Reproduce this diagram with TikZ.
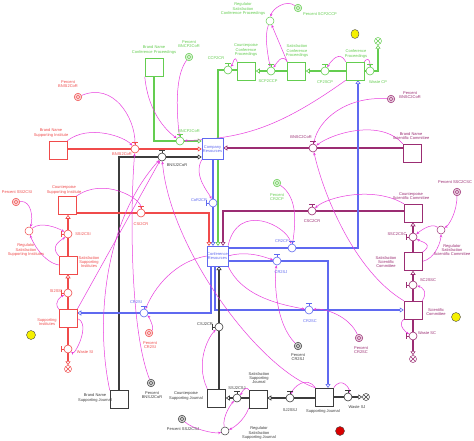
\documentclass[tikz,border=0pt]{standalone}
\usepackage{fontspec}
\setmainfont{Liberation Sans}
\usetikzlibrary{arrows.meta,shapes.geometric}
\definecolor{cg}{RGB}{100,205,80}
\definecolor{cr}{RGB}{240,75,75}
\definecolor{cp}{RGB}{155,45,115}
\definecolor{cb}{RGB}{95,105,240}
\definecolor{ck}{RGB}{60,60,60}
\definecolor{cm}{RGB}{232,60,222}
\definecolor{cy}{RGB}{245,240,0}
\pgfdeclarelayer{bg}
\pgfdeclarelayer{pipes}
\pgfdeclarelayer{links}
\pgfsetlayers{bg,pipes,links,main}
\tikzset{
 lbl/.style={font=\fontsize{4}{4.4}\selectfont, align=center, inner sep=0pt, text=#1},
 stock/.style={draw=#1, fill=white, line width=0.5pt, minimum width=18pt, minimum height=18pt, inner sep=0pt},
 valve/.style={circle, draw=#1, fill=white, line width=0.6pt, minimum size=8pt, inner sep=0pt},
 conv/.style={circle, draw=#1, fill=#1!25, line width=0.5pt, minimum size=7.5pt, inner sep=0pt,
   path picture={\draw[#1,line width=0.4pt] (path picture bounding box.center) circle (1.8pt);}},
 reg/.style={circle, draw=#1, fill=white, line width=0.5pt, minimum size=8pt, inner sep=0pt},
 cloudnode/.style={circle, draw=#1, fill=white, line width=0.5pt, minimum size=7pt, inner sep=0pt,
   path picture={\draw[#1,line width=0.4pt] (path picture bounding box.south west) -- (path picture bounding box.north east) (path picture bounding box.north west) -- (path picture bounding box.south east);}},
 pipe/.style={draw=#1, line width=1.8pt, -{Triangle[open, length=4pt, width=5pt, line width=0.6pt]}},
 info/.style={draw=cm, line width=0.5pt, -{Stealth[length=3pt, width=2.5pt]}},
 dot/.style={circle, draw=black!70, line width=0.4pt, inner sep=0pt},
}
\newcommand\valveh[3]{\node[valve=#3] (#1) at (#2) {}; \draw[#3, line width=0.8pt] (#1.north) -- ++(0,-2.5) ++(-3,0) -- ++(6,0);}
\newcommand\valvev[3]{\node[valve=#3] (#1) at (#2) {}; \draw[#3, line width=0.8pt] (#1.west) -- ++(-2.5,0) ++(0,-3) -- ++(0,6);}
\begin{document}
\begin{tikzpicture}[x=1pt,y=-1pt]
\begin{pgfonlayer}{bg}
\fill[white] (0,0) rectangle (474,441);
\end{pgfonlayer}
\useasboundingbox (0,0) rectangle (474,441);
% ---------- ports
\coordinate (crR) at (209,246);
\coordinate (crB) at (213,246);
\coordinate (crG) at (218,246);
\coordinate (crP) at (223,246);
\coordinate (crO1) at (211,266);
\coordinate (crO2) at (215,266);
\coordinate (crI) at (219,266);
\coordinate (cpIn) at (358,80);
\coordinate (sjIn) at (328,388);
% ---------- stocks
\node[stock=cg] (BNCP) at (154,67.5) {};
\node[stock=cg] (CCP) at (246.5,71) {};
\node[stock=cg] (SCP) at (296.5,71) {};
\node[stock=cg] (CP) at (355,71) {};
\node[stock=cr] (BNSI) at (58,150) {};
\node[stock=cp] (BNSC) at (412,153) {};
\node[stock=cr] (CSI) at (67,205.5) {};
\node[stock=cr] (SSI) at (68,265) {};
\node[stock=cr] (SI) at (68,318.5) {};
\node[stock=cp] (CSC) at (413,213) {};
\node[stock=cp] (SSC) at (413,261.5) {};
\node[stock=cp] (SC) at (413,310) {};
\node[stock=ck] (BNSJ) at (119,399.5) {};
\node[stock=ck] (CSJ) at (216.5,398) {};
\node[stock=ck] (SSJ) at (258,399) {};
\node[stock=ck] (SJ) at (324.5,397) {};
\node[stock=cb, lbl=cb, minimum width=21pt, minimum height=21pt] (CoR) at (212.5,149) {Company\\Resources};
\node[stock=cb, lbl=cb, minimum width=20pt, minimum height=20pt] (CR) at (217.5,256) {Conference\\Resources};
% ---------- clouds, converters, regulators
\node[cloudnode=cg] (cWCP) at (378,41) {};
\node[cloudnode=cr] (cWSI) at (68,369) {};
\node[cloudnode=cp] (cWSC) at (413,359) {};
\node[cloudnode=ck] (cWSJ) at (366,397) {};
\node[conv=cr] (PBNSI) at (78,97) {};
\node[conv=cg] (PBNCP) at (189,57) {};
\node[conv=cg] (PSCP) at (298,8) {};
\node[conv=cp] (PBNSC) at (391,99) {};
\node[conv=cr] (PSSI) at (16,202) {};
\node[conv=cg] (PCRCP) at (277,183) {};
\node[conv=cp] (PSSC) at (457,192) {};
\node[conv=cr] (PCRSI) at (149,333) {};
\node[conv=ck] (PCRSJ) at (298,346) {};
\node[conv=cp] (PCRSC) at (359,338) {};
\node[conv=ck] (PBNSJ) at (151,383) {};
\node[conv=ck] (PSSJ) at (182,419) {};
\node[reg=cg] (RSCP) at (270,21) {};
\node[reg=cp] (RSSC) at (441,230) {};
\node[reg=cr] (RSI) at (29,231) {};
\node[reg=ck] (RSSJ) at (225,431) {};
% ---------- valves
\valveh{vBNCP}{180,141}{cg}
\valveh{vCCP}{228,70}{cg}
\valveh{vSCP}{271,71}{cg}
\valveh{vCP}{325,71}{cg}
\valveh{vWCP}{370,71}{cg}
\valveh{vBNSI}{135,149}{cr}
\valveh{vBNSJ}{162,157}{ck}
\valveh{vBNSC}{313,148}{cp}
\valvev{vCoR}{213,203}{cb}
\valveh{vCSI}{141,213}{cr}
\valveh{vCSC}{312,211}{cp}
\valveh{vCRCP}{292,248}{cb}
\valveh{vCRSJ}{277,261}{cb}
\valveh{vCRSI}{144,313}{cb}
\valveh{vCRSC}{309,310}{cb}
\valvev{vCSJ}{219,327}{ck}
\valvev{vSSI}{68,234}{cr}
\valvev{vSI}{68,293}{cr}
\valvev{vWSI}{68,349}{cr}
\valvev{vSSC}{413,237}{cp}
\valvev{vSC}{413,285}{cp}
\valvev{vWSC}{413,336}{cp}
\valveh{vSSJ}{237,398}{ck}
\valveh{vSJ}{290,398}{ck}
\valveh{vWSJ}{348,397}{ck}
% ---------- pipes
\begin{pgfonlayer}{pipes}
\draw[pipe=cg] (BNCP.south) |- (CoR.west |- vBNCP);
\draw[pipe=cg] (CCP.west |- vCCP) -| (crG);
\draw[pipe=cg] (CP.west |- vCP) -- (SCP.east |- vCP);
\draw[pipe=cg] (SCP.west |- vSCP) -- (CCP.east |- vSCP);
\draw[pipe=cg] (CP.east |- vWCP) -| (cWCP);
\draw[pipe=cr] (BNSI.east |- vBNSI) -- (CoR.west |- vBNSI);
\draw[pipe=ck] (BNSJ.north) |- (CoR.west |- vBNSJ);
\draw[pipe=cp] (BNSC.west |- vBNSC) -- (CoR.east |- vBNSC);
\draw[pipe=cb] (CoR.south -| vCoR) -- (crB);
\draw[pipe=cr] (CSI.east |- vCSI) -| (crR);
\draw[pipe=cp] (CSC.west |- vCSC) -| (crP);
\draw[pipe=cb] (CR.east |- vCRCP) -| (cpIn);
\draw[pipe=cb] (CR.east |- vCRSJ) -| (sjIn);
\draw[pipe=cb] (crO2) |- (SC.west |- vCRSC);
\draw[pipe=cb] (crO1) |- (SI.east |- vCRSI);
\draw[pipe=ck] (CSJ.north -| vCSJ) -- (crI);
\draw[pipe=ck] (SSJ.west |- vSSJ) -- (CSJ.east |- vSSJ);
\draw[pipe=ck] (SJ.west |- vSJ) -- (SSJ.east |- vSJ);
\draw[pipe=ck] (SJ.east |- vWSJ) -- (cWSJ);
\draw[pipe=cr] (SI.north) -- (SSI.south);
\draw[pipe=cr] (SSI.north) -- (CSI.south -| SSI.north);
\draw[pipe=cr] (SI.south) -- (cWSI);
\draw[pipe=cp] (SC.north) -- (SSC.south);
\draw[pipe=cp] (SSC.north) -- (CSC.south);
\draw[pipe=cp] (SC.south) -- (cWSC);
\end{pgfonlayer}
% ---------- information links
\begin{pgfonlayer}{links}
% green
\draw[info] (BNCP.south west) .. controls +(4,40) and +(-10,-8) .. (vBNCP);
\draw[info] (PBNCP) .. controls +(-15,20) and +(-3,-25) .. (vBNCP);
\draw[info] (CP.south west) .. controls +(-70,50) and +(60,-3) .. (vBNCP);
\draw[info] (CCP.north west) .. controls +(-3,-8) and +(5,-6) .. (vCCP);
\draw[info] (SCP.north west) .. controls +(-5,-9) and +(5,-7) .. (vSCP);
\draw[info] (RSCP) .. controls +(-6,15) and +(-3,-15) .. (vSCP);
\draw[info] (SCP.north west) -- (RSCP);
\draw[info] (PSCP) .. controls +(-12,-9) and +(2,-12) .. (RSCP);
\draw[info] (CP.north west) .. controls +(-6,-12) and +(6,-10) .. (vCP);
\draw[info] (CP.north east) .. controls +(6,-7) and +(0,-6) .. (vWCP);
% purple
\draw[info] (PBNSC) .. controls +(-45,-3) and +(5,-28) .. (vBNSC);
\draw[info] (BNSC.north west) .. controls +(-22,-25) and +(20,-15) .. (vBNSC);
\draw[info] (SC.north west) .. controls +(-50,-30) and +(10,45) .. (vBNSC);
\draw[info] (CSC.north west) .. controls +(-30,-18) and +(15,-14) .. (vCSC);
\draw[info] (PSSC) .. controls +(0,20) and +(8,-5) .. (RSSC);
\draw[info] (RSSC) .. controls +(-10,-8) and +(6,-5) .. (vSSC);
\draw[info] (SSC.north east) .. controls +(12,-8) and +(9,5) .. (vSSC);
\draw[info] (SSC.east) .. controls +(14,-3) and +(0,10) .. (RSSC);
\draw[info] (SC.north east) .. controls +(6,-9) and +(9,2) .. (vSC);
\draw[info] (SC.south west) .. controls +(-7,6) and +(-6,-3) .. (vWSC);
% red
\draw[info] (PSSI) .. controls +(16,-2) and +(4,-12) .. (RSI);
\draw[info] (RSI) .. controls +(12,-10) and +(-10,-6) .. (vSSI);
\draw[info] (SSI.north west) .. controls +(-10,-10) and +(-5,5) .. (vSSI);
\draw[info] (SSI.west) .. controls +(-16,-3) and +(3,10) .. (RSI);
\draw[info] (CSI.north east) .. controls +(28,-20) and +(0,-14) .. (vCSI);
\draw[info] (BNSI.north east) .. controls +(22,-17) and +(-10,-12) .. (vBNSI);
\draw[info] (PBNSI) .. controls +(35,-15) and +(0,-32) .. (vBNSI);
\draw[info] (SI.north west) .. controls +(-6,-8) and +(-6,3) .. (vSI);
\draw[info] (SI.east) .. controls +(14,5) and +(7,6) .. (vWSI);
% blue
\draw[info] (CoR.south west) .. controls +(-9,16) and +(-4,-10) .. (vCoR);
\draw[info] (PCRCP) .. controls +(22,15) and +(3,-22) .. (vCRCP);
\draw[info] (CR.north east) .. controls +(10,-45) and +(-5,-22) .. (vCRCP);
\draw[info] (CR.east) .. controls +(20,-6) and +(-10,-3) .. (vCRSJ);
\draw[info] (PCRSJ) .. controls +(-22,-22) and +(-3,22) .. (vCRSJ);
\draw[info] (PCRSC) .. controls +(-10,-22) and +(16,-2) .. (vCRSC);
\draw[info] (PCRSI) .. controls +(6,-5) and +(4,3) .. (vCRSI);
\draw[info] (CR.west) .. controls +(-32,5) and +(10,-25) .. (vCRSI);
\draw[info] (CR.south east) .. controls +(15,32) and +(-25,-5) .. (vCRSC);
% black
\draw[info] (CSJ.north west) .. controls +(-13,-28) and +(-9,8) .. (vCSJ);
\draw[info] (PSSJ) .. controls +(10,10) and +(-10,3) .. (RSSJ);
\draw[info] (RSSJ) .. controls +(-3,-15) and +(-5,5) .. (vSSJ);
\draw[info] (SSJ.north west) .. controls +(-4,-5) and +(4,-4) .. (vSSJ);
\draw[info] (SSJ.south west) .. controls +(-5,13) and +(8,-3) .. (RSSJ);
\draw[info] (SJ.north west) .. controls +(-9,-13) and +(3,-10) .. (vSJ);
\draw[info] (SJ.north east) .. controls +(8,-12) and +(2,-8) .. (vWSJ);
\draw[info] (BNSJ.north west) .. controls +(-15,-70) and +(-57,63) .. (vBNSJ);
\draw[info] (PBNSJ) .. controls +(-21,-53) and +(-5,61) .. (vBNSI);
\draw[info] (SJ.north west) .. controls +(-55,-18) and +(8,93) .. (vBNSJ);
\draw[info] (SI.north east) -- (vBNSJ);
\end{pgfonlayer}
% ---------- dots
\node[dot, fill=cy, minimum width=8pt, minimum height=9pt, ellipse] (yT) at (355,34) {};
\node[dot, fill=cy, minimum size=9pt] (yL) at (31,335) {};
\node[dot, fill=cy, minimum size=9pt] (yR) at (456,317) {};
\node[dot, fill=red!85!black, minimum size=9pt] (rB) at (340,431) {};
% ---------- labels
\node[lbl=cg] (t1) at (154,50) {Brand Name\\Conference Proceedings};
\node[lbl=cg] (t2) at (189,44) {Percent\\BNCP2CoR};
\node[lbl=cg] (t3) at (189,131) {BNCP2CoR};
\node[lbl=cg] (t4) at (216,58) {CCP2CR};
\node[lbl=cg] (t5) at (246,50) {Counterpoise\\Conference\\Proceedings};
\node[lbl=cg] (t6) at (243,9) {Regulator\\Satisfaction\\Conference Proceedings};
\node[lbl=cg] (t7) at (320,14) {Percent SCP2CCP};
\node[lbl=cg] (t8) at (268,81) {SCP2CCP};
\node[lbl=cg] (t9) at (297,51) {Satisfaction\\Conference\\Proceedings};
\node[lbl=cg] (t10) at (325,82) {CP2SCP};
\node[lbl=cg] (t11) at (356,54) {Conference\\Proceedings};
\node[lbl=cg] (t12) at (378,82) {Waste CP};
\node[lbl=cr] (t13) at (68,84) {Percent\\BNSI2CoR};
\node[lbl=cr] (t14) at (51,133) {Brand Name\\Supporting Institute};
\node[lbl=cr] (t15) at (122,154) {BNSI2CoR};
\node[lbl=ck] (t16) at (177,165) {BNSJ2CoR};
\node[lbl=cp] (t17) at (301,137) {BNSC2CoR};
\node[lbl=cp] (t18) at (410,95) {Percent\\BNSC2CoR};
\node[lbl=cp] (t19) at (411,136) {Brand Name\\Scientific Committee};
\node[lbl=cr] (t20) at (17,192) {Percent SSI2CSI};
\node[lbl=cr] (t21) at (64,190) {Counterpoise\\Supporting Institute};
\node[lbl=cr] (t22) at (141,224) {CSI2CR};
\node[lbl=cb] (t23) at (199,200) {CoR2CR};
\node[lbl=cg] (t24) at (277,197) {Percent\\CR2CP};
\node[lbl=cp] (t25) at (312,221) {CSC2CR};
\node[lbl=cp] (t26) at (411,196) {Counterpoise\\Scientific Committee};
\node[lbl=cp] (t27) at (455,182) {Percent SSC2CSC};
\node[lbl=cr] (t28) at (83,234) {SSI2CSI};
\node[lbl=cr] (t29) at (26,250) {Regulator\\Satisfaction\\Supporting Institutes};
\node[lbl=cr] (t30) at (89,262) {Satisfaction\\Supporting\\Institutes};
\node[lbl=cp] (t31) at (397,234) {SSC2CSC};
\node[lbl=cp] (t32) at (452,250) {Regulator\\Satisfaction\\Scientific Committee};
\node[lbl=cp] (t33) at (386,262) {Satisfaction\\Scientific\\Committee};
\node[lbl=cb] (t34) at (282,241) {CR2CP};
\node[lbl=cb] (t35) at (281,272) {CR2SJ};
\node[lbl=cr] (t36) at (56,291) {SI2SSI};
\node[lbl=cp] (t37) at (428,280) {SC2SSC};
\node[lbl=cb] (t38) at (136,302) {CR2SI};
\node[lbl=cr] (t39) at (47,322) {Supporting\\Institutes};
\node[lbl=cb] (t40) at (310,321) {CR2SC};
\node[lbl=cp] (t41) at (436,312) {Scientific\\Committee};
\node[lbl=cr] (t42) at (150,345) {Percent\\CR2SI};
\node[lbl=ck] (t43) at (205,324) {CSJ2CR};
\node[lbl=cr] (t44) at (85,352) {Waste SI};
\node[lbl=cp] (t45) at (427,333) {Waste SC};
\node[lbl=ck] (t46) at (298,357) {Percent\\CR2SJ};
\node[lbl=cp] (t47) at (361,350) {Percent\\CR2SC};
\node[lbl=ck] (t48) at (259,378) {Satisfaction\\Supporting\\Journal};
\node[lbl=ck] (t49) at (237,388) {SSJ2CSJ};
\node[lbl=ck] (t50) at (95,398) {Brand Name\\Supporting Journal};
\node[lbl=ck] (t51) at (152,395) {Percent\\BNSJ2CoR};
\node[lbl=ck] (t52) at (186,396) {Counterpoise\\Supporting Journal};
\node[lbl=ck] (t53) at (290,410) {SJ2SSJ};
\node[lbl=ck] (t54) at (323,411) {Supporting Journal};
\node[lbl=ck] (t55) at (357,407) {Waste SJ};
\node[lbl=ck] (t56) at (183,429) {Percent SSJ2CSJ};
\node[lbl=ck] (t57) at (259,433) {Regulator\\Satisfaction\\Supporting Journal};
\end{tikzpicture}
\end{document}
